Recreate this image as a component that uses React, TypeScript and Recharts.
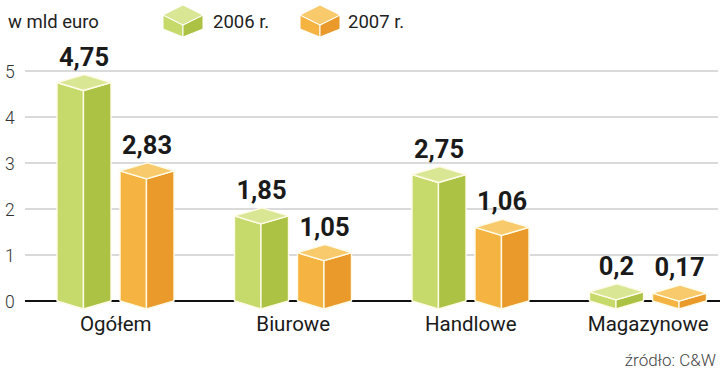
import React from 'react';
import { BarChart, Bar, XAxis, YAxis, CartesianGrid, LabelList } from 'recharts';

const categories = ['Ogółem', 'Biurowe', 'Handlowe', 'Magazynowe'];
const values2006 = [4.75, 1.85, 2.75, 0.2];
const values2007 = [2.83, 1.05, 1.6, 0.17];
const labels2006 = ['4,75', '1,85', '2,75', '0,2'];
const labels2007 = ['2,83', '1,05', '1,06', '0,17'];
const yTicks = [0, 1, 2, 3, 4, 5];
const seriesNames = ['2006 r.', '2007 r.'];
const unitLabel = 'w mld euro';
const sourceLabel = 'źródło: C&W';

const GREEN = { front: '#c6da6c', side: '#abc244', top: '#d9e795' };
const ORANGE = { front: '#f5b441', side: '#e99a2b', top: '#f9ca6c' };

const FONT = 'Roboto, "Noto Sans", sans-serif';
const W = 720;
const H = 373;
const MARGIN = { top: 71, right: 2, bottom: 42, left: 0 };
const X_AXIS_H = 30;
const PLOT_BOTTOM = H - MARGIN.bottom - X_AXIS_H;

const data = categories.map((c, i) => ({
  name: c,
  v2006: values2006[i],
  v2007: values2007[i],
}));

const makeShape = (col: { front: string; side: string; top: string }) => (props: any) => {
  const { x, y, width, height } = props;
  if (width == null || height == null) return null;
  const dy = 8;
  const m = x + width * 0.49;
  const m2 = x + width * 0.51;
  const r = x + width;
  const b = y + height;
  const sw = 1.4;
  return (
    <g>
      <polygon points={`${x},${y} ${m},${y + dy} ${m},${b + dy} ${x},${b}`} fill={col.front} stroke="#fffbe8" strokeWidth={sw} strokeLinejoin="round" />
      <polygon points={`${m},${y + dy} ${r},${y} ${r},${b} ${m},${b + dy}`} fill={col.side} stroke="#fffbe8" strokeWidth={sw} strokeLinejoin="round" />
      <polygon points={`${x},${y} ${m2},${y - dy} ${r},${y} ${m},${y + dy}`} fill={col.top} stroke="#fffbe8" strokeWidth={sw} strokeLinejoin="round" />
    </g>
  );
};

const makeLabel = (labels: string[]) => (props: any) => {
  const { x, y, width, index } = props;
  return (
    <text x={x + width / 2} y={y - 17} textAnchor="middle" fontFamily={FONT} fontWeight={700} fontSize={25.5} fill="#1a1a1a">
      {labels[index]}
    </text>
  );
};

const YTick = (props: any) => {
  const { y, payload } = props;
  return (
    <text x={5} y={y + 6.5} fontFamily={FONT} fontWeight={300} fontSize={17.5} fill="#333">
      {payload.value}
    </text>
  );
};

const XTick = (props: any) => {
  const { x, y, payload } = props;
  return (
    <text x={x} y={y + 30} textAnchor="middle" fontFamily={FONT} fontSize={20.5} fill="#1a1a1a">
      {payload.value}
    </text>
  );
};

const GridLine = (props: any) => {
  const { x1, x2, y1, y2 } = props;
  const isZero = Math.abs(y1 - PLOT_BOTTOM) < 1;
  return (
    <line
      x1={x1}
      x2={isZero ? W : x2}
      y1={y1}
      y2={y2}
      stroke={isZero ? '#111' : '#b5b5b5'}
      strokeWidth={isZero ? 2 : 1}
    />
  );
};

const Cube = ({ x, col }: { x: number; col: { front: string; side: string; top: string } }) => {
  const l = x, m = x + 20, r = x + 40;
  return (
    <g>
      <polygon points={`${l},15 ${m},25 ${m},37 ${l},29`} fill={col.front} stroke="#fff" strokeWidth={1} />
      <polygon points={`${m},25 ${r},15 ${r},29 ${m},37`} fill={col.side} stroke="#fff" strokeWidth={1} />
      <polygon points={`${l},15 ${m},5 ${r},15 ${m},25`} fill={col.top} stroke="#fff" strokeWidth={1} />
    </g>
  );
};

export default function App() {
  return (
    <div style={{ position: 'absolute', left: 0, top: 0, width: W, height: H, background: '#fff', overflow: 'hidden' }}>
      <BarChart width={W} height={H} data={data} margin={MARGIN} barSize={54} barGap={9}>
        <CartesianGrid vertical={false} horizontal={GridLine as any} />
        <XAxis
          dataKey="name"
          height={X_AXIS_H}
          axisLine={false}
          tickLine={false}
          tickSize={0}
          tickMargin={0}
          interval={0}
          padding={{ left: 2, right: -19 }}
          tick={<XTick />}
        />
        <YAxis
          width={25}
          domain={[0, 5]}
          ticks={yTicks}
          axisLine={false}
          tickLine={false}
          tick={<YTick />}
        />
        <Bar dataKey="v2006" name={seriesNames[0]} fill={GREEN.front} shape={makeShape(GREEN)} isAnimationActive={false}>
          <LabelList dataKey="v2006" content={makeLabel(labels2006)} />
        </Bar>
        <Bar dataKey="v2007" name={seriesNames[1]} fill={ORANGE.front} shape={makeShape(ORANGE)} isAnimationActive={false}>
          <LabelList dataKey="v2007" content={makeLabel(labels2007)} />
        </Bar>
      </BarChart>
      <svg width={W} height={H} style={{ position: 'absolute', left: 0, top: 0, pointerEvents: 'none' }}>
        <text x={8} y={28} fontFamily={FONT} fontSize={18.5} fill="#222">{unitLabel}</text>
        <Cube x={163} col={GREEN} />
        <text x={213} y={28} fontFamily={FONT} fontSize={18.5} fill="#222">{seriesNames[0]}</text>
        <Cube x={300} col={ORANGE} />
        <text x={348} y={28} fontFamily={FONT} fontSize={18.5} fill="#222">{seriesNames[1]}</text>
        <text x={716} y={366} textAnchor="end" fontFamily={FONT} fontWeight={300} fontSize={17} fill="#444">{sourceLabel}</text>
      </svg>
    </div>
  );
}
